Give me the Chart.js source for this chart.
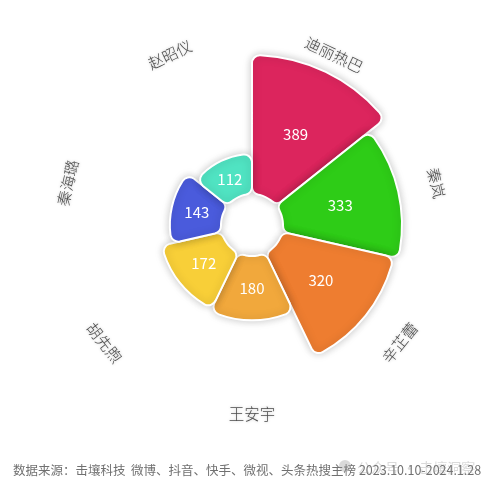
<!DOCTYPE html>
<html>
<head>
<meta charset="utf-8">
<script src="https://cdn.jsdelivr.net/npm/chart.js@4.4.1/dist/chart.umd.min.js"></script>
<style>
  html, body { margin: 0; padding: 0; background: #fff; }
  #wrap { width: 503px; height: 488px; position: relative; }
</style>
</head>
<body>
<div id="wrap"><canvas id="c" width="503" height="488"></canvas></div>
<script>
const categories = ['迪丽热巴', '秦岚', '辛芷蕾', '王安宇', '胡先煦', '秦海璐', '赵昭仪'];
const values = [389, 333, 320, 180, 172, 143, 112];
const colors = ['#dc255d', '#2ecc17', '#ee7d30', '#f1a83c', '#f8cf38', '#4a5bdc', '#50e3c2'];
const sourceText = '数据来源：击壤科技  微博、抖音、快手、微视、头条热搜主榜 2023.10.10-2024.1.28';
const watermarkText = '公众号 · 击壤洞察';

const FONT = "'Noto Sans CJK SC', 'Noto Sans', sans-serif";
const HOLE = 31;

const rosePlugin = {
  id: 'rose',
  afterDatasetsUpdate(chart) {
    const meta = chart.getDatasetMeta(0);
    meta.data.forEach(el => { el.innerRadius = HOLE; });
  },
  beforeDatasetsDraw(chart) {
    const ctx = chart.ctx;
    ctx.save();
    ctx.shadowColor = 'rgba(0,0,0,0.22)';
    ctx.shadowBlur = 9;
  },
  afterDatasetsDraw(chart) {
    chart.ctx.restore();
  },
  afterDraw(chart) {
    const ctx = chart.ctx;
    const scale = chart.scales.r;
    const cx = scale.xCenter, cy = scale.yCenter;
    const meta = chart.getDatasetMeta(0);
    const labelR = scale.drawingArea + 19;
    ctx.save();
    meta.data.forEach((el, i) => {
      const mid = (el.startAngle + el.endAngle) / 2;
      const rMid = (el.innerRadius + el.outerRadius) / 2;
      ctx.font = '15px ' + FONT;
      ctx.fillStyle = '#ffffff';
      ctx.textAlign = 'center';
      ctx.textBaseline = 'middle';
      ctx.fillText(String(values[i]), cx + Math.cos(mid) * rMid, cy + Math.sin(mid) * rMid);
      const theta = mid + Math.PI / 2;
      let deg = theta * 180 / Math.PI;
      deg = ((deg % 360) + 360) % 360;
      let rot;
      if (deg < 90) rot = deg;
      else if (deg > 270) rot = deg - 360;
      else rot = deg - 180;
      const lx = cx + Math.cos(mid) * labelR, ly = cy + Math.sin(mid) * labelR;
      ctx.save();
      ctx.translate(lx, ly);
      ctx.rotate(rot * Math.PI / 180);
      ctx.shadowColor = 'rgba(0,0,0,0.25)';
      ctx.shadowBlur = 3;
      ctx.font = '300 15.5px ' + FONT;
      ctx.fillStyle = '#4a4a4a';
      ctx.fillText(categories[i], 0, 0);
      ctx.restore();
    });
    ctx.font = '12.5px ' + FONT;
    ctx.fillStyle = '#707070';
    ctx.textAlign = 'left';
    ctx.textBaseline = 'middle';
    ctx.fillText(sourceText, 13, 470);
    ctx.font = '14px ' + FONT;
    ctx.fillStyle = 'rgba(150,150,150,0.35)';
    ctx.fillText(watermarkText, 357, 468);
    ctx.beginPath();
    ctx.arc(345, 466, 6, 0, Math.PI * 2);
    ctx.fillStyle = 'rgba(150,150,150,0.35)';
    ctx.fill();
    ctx.restore();
  }
};

new Chart(document.getElementById('c'), {
  type: 'polarArea',
  data: {
    labels: categories,
    datasets: [{
      data: values,
      backgroundColor: colors,
      borderColor: '#ffffff',
      borderWidth: 2,
      borderRadius: 8
    }]
  },
  options: {
    responsive: false,
    animation: false,
    layout: { padding: { left: 82, right: 81, top: 55, bottom: 93 } },
    scales: {
      r: { min: -87, max: 389, display: false, startAngle: 0 }
    },
    plugins: {
      legend: { display: false },
      tooltip: { enabled: false }
    }
  },
  plugins: [rosePlugin]
});
</script>
</body>
</html>
